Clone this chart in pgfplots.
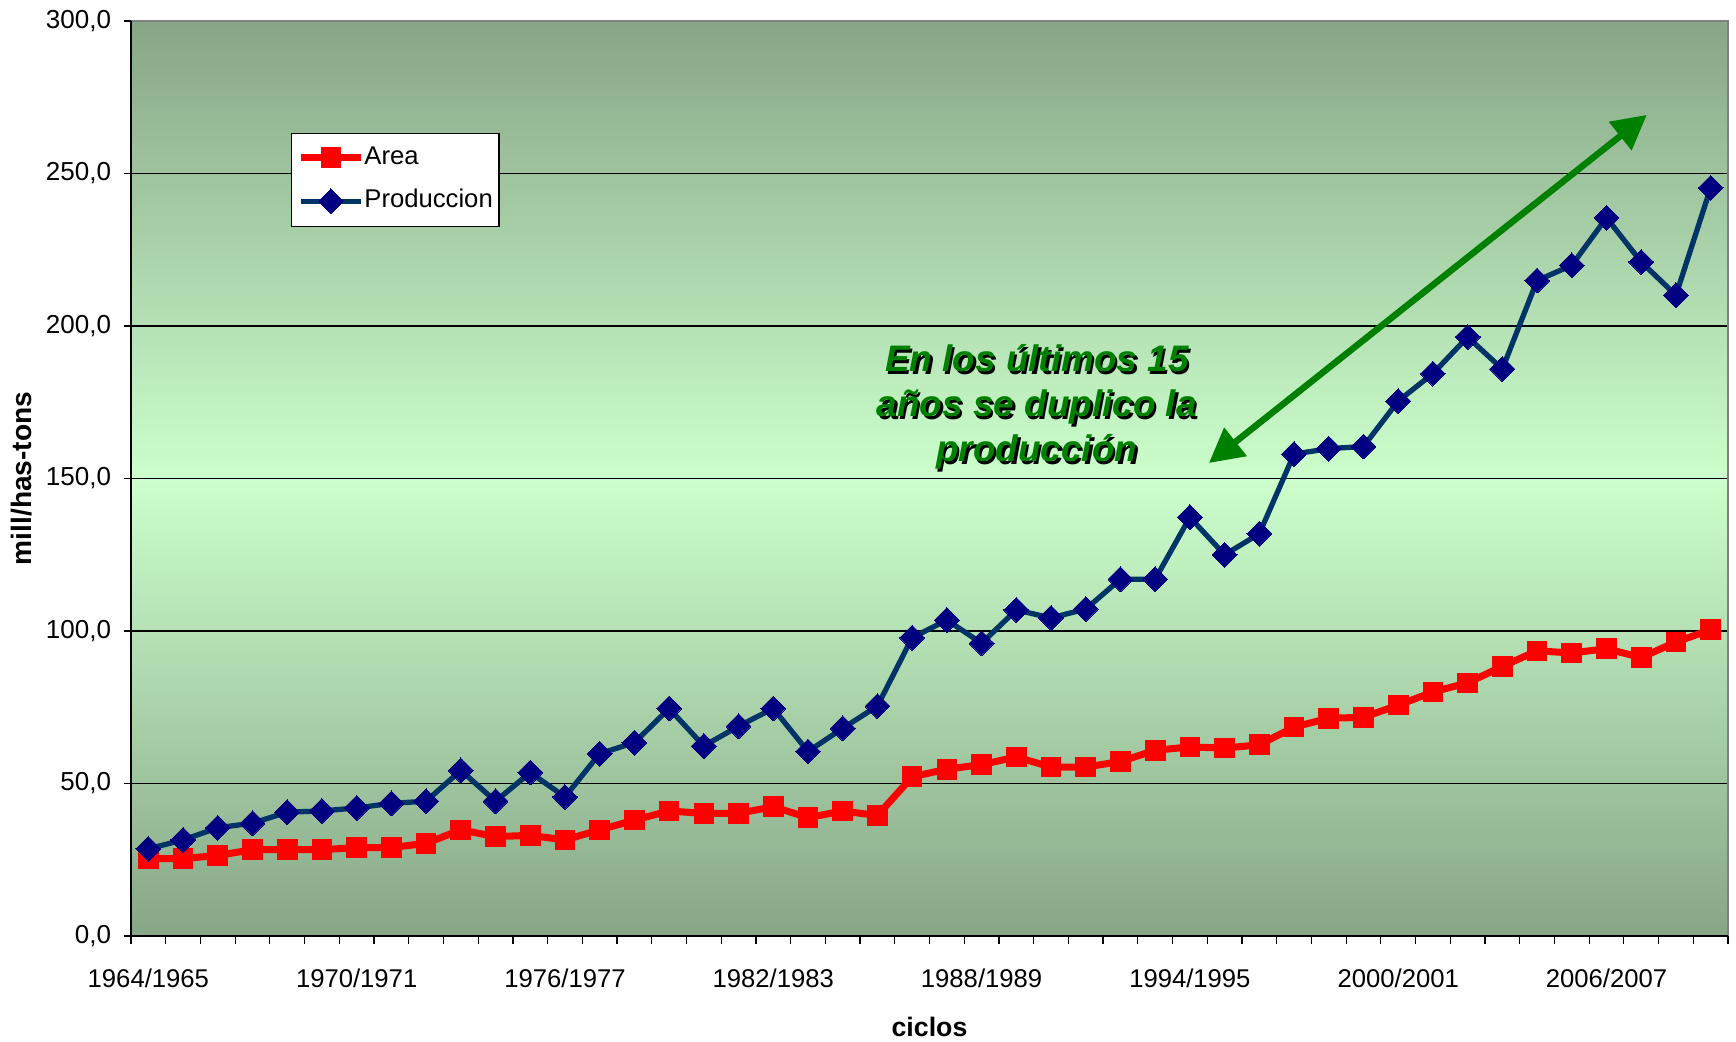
\documentclass[border=0pt]{standalone}
\usepackage{fontspec}
\setmainfont{Liberation Sans}
\usepackage{pgfplots}
\pgfplotsset{compat=1.18}
\usetikzlibrary{arrows.meta}

\definecolor{areared}{HTML}{FF0000}
\definecolor{prodline}{HTML}{003366}
\definecolor{prodmark}{HTML}{000080}
\definecolor{bgdark}{HTML}{87A687}
\definecolor{bglight}{HTML}{CCFFCC}
\definecolor{notegreen}{HTML}{008000}

% ciclos 1964/1965 ... 2009/2010, x = 0..45
\pgfplotstableread{
x area prod
0 25.4 28.6
1 25.4 31.5
2 26.4 35.5
3 28.3 37.0
4 28.3 40.6
5 28.3 41.0
6 29.0 42.0
7 29.0 43.5
8 30.4 44.2
9 34.8 54.3
10 32.6 44.2
11 33.0 53.6
12 31.5 45.6
13 34.8 59.8
14 38.0 63.4
15 41.0 74.6
16 40.2 62.3
17 40.2 68.8
18 42.4 74.6
19 38.8 60.5
20 41.0 68.1
21 39.5 75.4
22 52.2 97.8
23 54.7 103.6
24 56.2 96.0
25 58.7 106.9
26 55.4 104.3
27 55.4 107.2
28 57.2 117.0
29 60.9 117.0
30 62.0 137.3
31 61.6 125.0
32 62.7 131.9
33 68.5 158.0
34 71.4 159.8
35 71.7 160.5
36 75.7 175.4
37 80.0 184.4
38 83.0 196.4
39 88.4 185.9
40 93.5 214.9
41 92.8 219.9
42 94.2 235.5
43 91.3 221.0
44 96.4 210.1
45 100.4 245.3
}\datatable

\begin{document}
\begin{tikzpicture}
\begin{axis}[
    at={(0,0)}, anchor=south west,
    width=159.7mm, height=91.5mm, scale only axis,
    xmin=-0.5, xmax=45.5,
    ymin=0, ymax=300,
    xtick={-0.5,0.5,...,45.5},
    xticklabels={1964/1965,,,,,,1970/1971,,,,,,1976/1977,,,,,,1982/1983,,,,,,1988/1989,,,,,,1994/1995,,,,,,2000/2001,,,,,,2006/2007,,,,,,},
    xticklabel style={xshift=1.736mm, yshift=-1.3mm, font=\fontsize{7.3}{8.8}\selectfont},
    ytick={0,50,...,300},
    yticklabel style={font=\fontsize{7.4}{8.9}\selectfont,
        /pgf/number format/.cd, fixed, fixed zerofill, precision=1, use comma},
    /pgf/number format/assume math mode=true,
    xtick pos=bottom, ytick pos=left,
    tick align=outside,
    major tick length=0.75mm,
    tick style={black, line width=0.35pt},
    ymajorgrids,
    grid style={black, line width=0.35pt},
    axis line style={draw=none},
    axis background/.style={top color=bgdark, bottom color=bgdark, middle color=bglight},
    xlabel={\textbf{ciclos}},
    ylabel={\textbf{mill/has-tons}},
    xlabel style={font=\fontsize{7.6}{9}\selectfont, at={(axis description cs:0.5,-0.0995)}, anchor=center},
    ylabel style={font=\fontsize{8}{9.6}\selectfont, at={(axis description cs:-0.0683,0.5)}, anchor=center},
    legend style={at={(axis description cs:0.100,0.878)}, anchor=north west,
        draw=black, fill=white, line width=0.4pt,
        font=\fontsize{7.3}{8.8}\selectfont,
        inner xsep=0.6mm, inner ysep=0.6mm, row sep=0.6mm,
        nodes={inner sep=2pt, inner xsep=0pt, text depth=0.15em}},
    legend cell align=left,
    clip=false,
]
\addplot[areared, line width=2pt, mark=square*, mark size=2.8pt,
    mark options={fill=areared, draw=areared, line width=0pt}]
    table[x=x, y=area] {\datatable};
\addlegendentry{Area}
\addplot[prodline, line width=1.5pt, mark=square*, mark size=2.5pt,
    mark options={rotate=45, fill=prodmark, draw=prodmark, line width=0pt}]
    table[x=x, y=prod] {\datatable};
\addlegendentry{Produccion}

% borde del area de trazado
\draw[gray, line width=0.8pt] (rel axis cs:0,1) -- (rel axis cs:1,1) -- (rel axis cs:1,0);
\draw[black, line width=0.4pt] (rel axis cs:0,1) -- (rel axis cs:0,0) -- (rel axis cs:1,0);

% flecha y nota
\draw[notegreen, line width=0.65mm,
    {Triangle[length=3.4mm,width=3.5mm]}-{Triangle[length=3.4mm,width=3.5mm]}]
    (axis cs:30.55,155.1) -- (axis cs:43.16,269.2);
\node[black, align=center, font=\fontsize{10.5}{12.8}\selectfont\bfseries\itshape,
    xshift=0.25mm, yshift=-0.25mm] at (axis cs:25.59,173.4)
    {En los últimos 15\\años se duplico la\\producción};
\node[notegreen, align=center, font=\fontsize{10.5}{12.8}\selectfont\bfseries\itshape]
    at (axis cs:25.59,173.4)
    {En los últimos 15\\años se duplico la\\producción};
\end{axis}
\pgfresetboundingbox
\useasboundingbox (-13.1mm,-10.5mm) rectangle (160.5mm,93.6mm);
\end{tikzpicture}
\end{document}
